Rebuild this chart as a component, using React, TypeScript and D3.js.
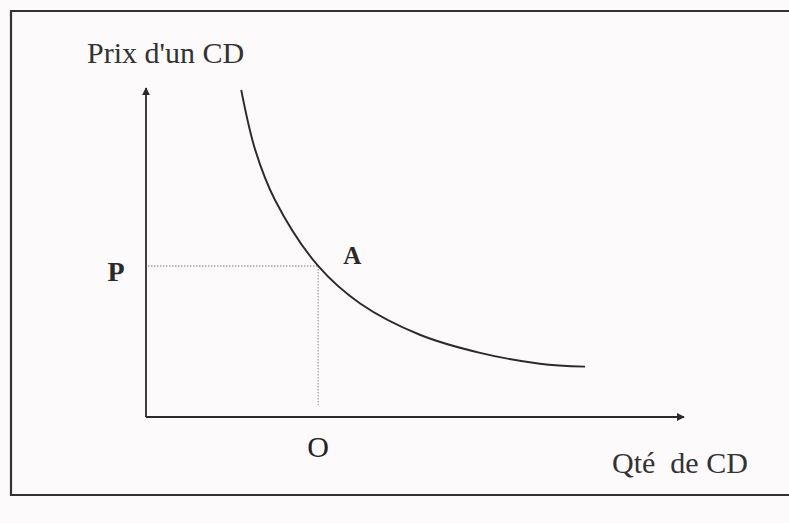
import React from "react";
import * as d3 from "d3";

// Demand curve for CDs: quantity (x) against price (y), in arbitrary units
const quantity = [1.77, 2.03, 2.4, 3.2, 3.98, 5.09, 6.21, 7.32, 8.16];
const price = [9.94, 8.12, 6.59, 4.59, 3.45, 2.5, 1.95, 1.62, 1.53];

// Point A on the curve, with its price P and quantity Q
const pointA = { q: 3.2, p: 4.59 };
const axisLabels = { y: "Prix d'un CD", x: "Qté  de CD" };
const markLabels = { point: "A", price: "P", qty: "O" };

const W = 789;
const H = 523;

export default function App() {
  const x = d3.scaleLinear().domain([0, 10]).range([146, 684]);
  const y = d3.scaleLinear().domain([0, 10]).range([417, 88]);

  const pts: [number, number][] = quantity.map((q, i) => [q, price[i]]);
  const line = d3
    .line<[number, number]>()
    .x((d) => x(d[0]))
    .y((d) => y(d[1]))
    .curve(d3.curveCatmullRom.alpha(0.5));

  const ink = "#2a2a2a";
  const serif = "'Liberation Serif', 'DejaVu Serif', serif";

  return (
    <svg
      width={W}
      height={H}
      style={{ position: "absolute", left: 0, top: 0, background: "#fcfafb" }}
    >
      <defs>
        <marker
          id="arrow"
          viewBox="0 0 10 10"
          refX="9"
          refY="5"
          markerWidth="8"
          markerHeight="8"
          markerUnits="userSpaceOnUse"
          orient="auto"
        >
          <path d="M0,0 L10,5 L0,10 z" fill={ink} />
        </marker>
      </defs>

      {/* frame */}
      <path
        d={`M${W},11 L11,11 L11,495 L${W},495`}
        fill="none"
        stroke="#333"
        strokeWidth={2.2}
      />

      {/* axes */}
      <line x1={x(0)} y1={y(0)} x2={x(0)} y2={y(10)} stroke={ink} strokeWidth={1.8} markerEnd="url(#arrow)" />
      <line x1={x(0)} y1={y(0)} x2={x(10)} y2={y(0)} stroke={ink} strokeWidth={1.8} markerEnd="url(#arrow)" />

      {/* guides from point A */}
      <line
        x1={x(0) + 2}
        y1={y(pointA.p)}
        x2={x(pointA.q)}
        y2={y(pointA.p)}
        stroke="#7a7a7a"
        strokeWidth={1}
        strokeDasharray="1.5,1.5"
      />
      <line
        x1={x(pointA.q)}
        y1={y(pointA.p)}
        x2={x(pointA.q)}
        y2={y(0) - 12}
        stroke="#8a8a8a"
        strokeWidth={1}
        strokeDasharray="1.5,1.5"
      />

      {/* demand curve */}
      <path d={line(pts) ?? ""} fill="none" stroke={ink} strokeWidth={1.9} />

      {/* labels */}
      <text x={87} y={63} fontFamily={serif} fontSize={30} fill="#333">
        {axisLabels.y}
      </text>
      <text
        x={612}
        y={473}
        fontFamily={serif}
        fontSize={30}
        fill="#333"
        style={{ whiteSpace: "pre" }}
      >
        {axisLabels.x}
      </text>
      <text
        x={x(pointA.q) + 34}
        y={y(pointA.p) - 2}
        fontFamily={serif}
        fontSize={25}
        fontWeight="bold"
        fill="#2a2a2a"
        textAnchor="middle"
      >
        {markLabels.point}
      </text>
      <text
        x={x(0) - 30}
        y={y(pointA.p) + 15}
        fontFamily={serif}
        fontSize={28}
        fontWeight="bold"
        fill="#2a2a2a"
        textAnchor="middle"
      >
        {markLabels.price}
      </text>
      <text
        x={x(pointA.q)}
        y={y(0) + 40}
        fontFamily={serif}
        fontSize={30}
        fill="#222"
        textAnchor="middle"
      >
        {markLabels.qty}
      </text>
    </svg>
  );
}
